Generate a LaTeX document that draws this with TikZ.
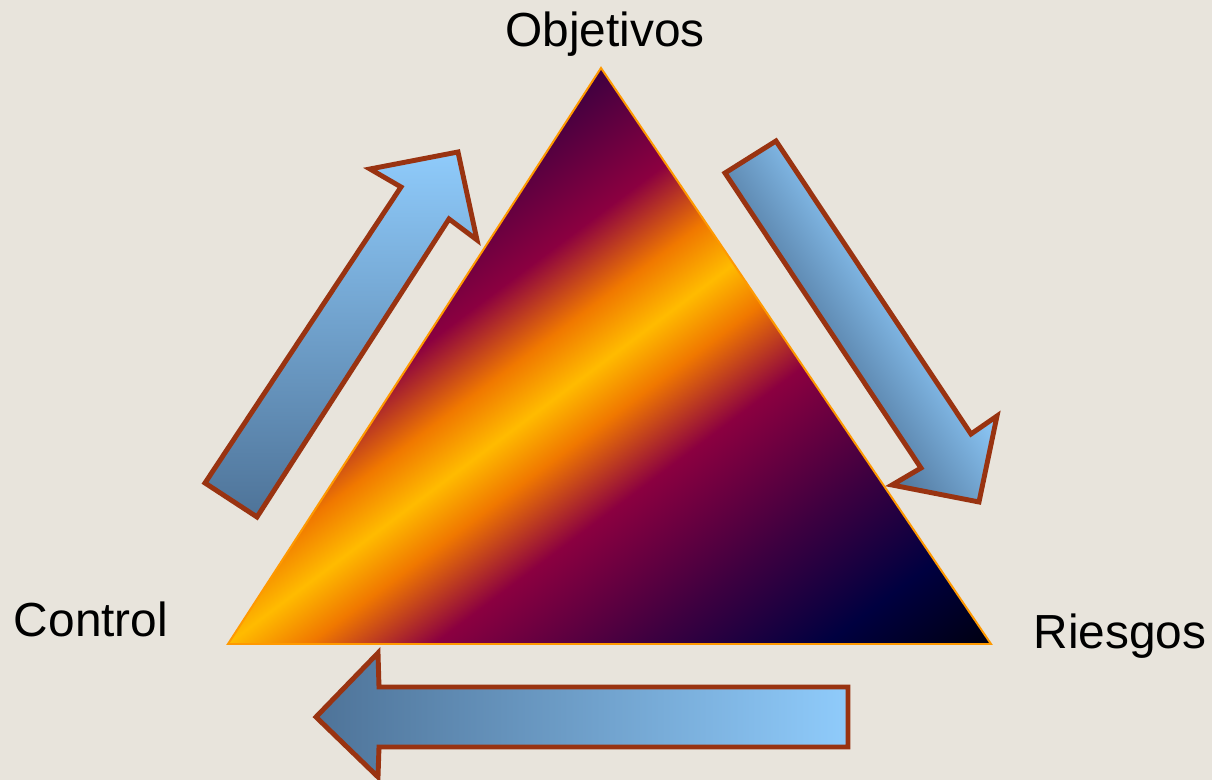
\documentclass[tikz,border=0pt]{standalone}
\usepackage{fontspec}
\setmainfont{Liberation Sans}
\usetikzlibrary{calc}
\definecolor{paper}{RGB}{232,228,220}
\definecolor{rust}{RGB}{153,51,17}
\definecolor{tangerine}{RGB}{255,153,0}
\definecolor{skylight}{RGB}{143,203,251}
\definecolor{skydark}{RGB}{78,115,152}
\definecolor{plum}{RGB}{62,0,64}
\definecolor{crimson}{RGB}{139,0,64}
\definecolor{ember}{RGB}{240,120,0}
\definecolor{gold}{RGB}{255,187,0}
\definecolor{nightblue}{RGB}{0,0,64}
\definecolor{pitch}{RGB}{0,0,16}
\pgfdeclarehorizontalshading{trishade}{100bp}{color(0bp)=(plum); color(25bp)=(plum);
  color(33.3bp)=(crimson); color(38.3bp)=(ember); color(42bp)=(gold); color(45.5bp)=(ember);
  color(50.9bp)=(crimson); color(59.9bp)=(plum); color(67.8bp)=(nightblue);
  color(75bp)=(pitch); color(100bp)=(pitch)}
\tikzset{
  blockarrow/.style={draw=rust,line width=3.5pt,line join=miter},
  triedge/.style={draw=tangerine,line width=1.4pt},
  cornerlabel/.style={font=\fontsize{34}{40}\selectfont,text=black,anchor=base,inner sep=0pt},
}

\begin{document}
\begin{tikzpicture}[x=0.025cm,y=0.025cm]
  \fill[paper] (0,0) rectangle (1212,780);
  % triangle
  \coordinate (apex) at (601,712);
  \coordinate (lft) at (228,136);
  \coordinate (rgt) at (991,136);
  \begin{scope}
    \clip (apex) -- (lft) -- (rgt) -- cycle;
    \shade[shading=trishade,transform canvas={rotate=-53.13}] (-209,250) rectangle (486,920);
  \end{scope}
  \draw[triedge] (apex) -- (lft) -- (rgt) -- cycle;
  % arrows
  \shade[blockarrow,top color=skylight,bottom color=skydark]
    (205,297) -- (257,263) -- (449,561) -- (477,540) -- (458,628) -- (370,611) -- (401,593) -- cycle;
  \path[save path=\downarrow]
    (725,607) -- (776,639) -- (971,346) -- (997,364) -- (979,278) -- (892,295) -- (921,312) -- cycle;
  \begin{scope}
    \clip[use path=\downarrow];
    \shade[left color=skydark,right color=skylight,transform canvas={rotate=33.6}] (906,-320) rectangle (1032,110);
  \end{scope}
  \draw[blockarrow,use path=\downarrow];
  \shade[blockarrow,left color=skydark,right color=skylight]
    (316,63) -- (378,127) -- (379,93) -- (848,93) -- (848,33) -- (379,33) -- (378,3) -- cycle;
  % labels
  \node[cornerlabel] (obj) at (605,733) {Objetivos};
  \node[cornerlabel] (ctrl) at (91,143) {Control};
  \node[cornerlabel] (risk) at (1120,131) {Riesgos};
  \pgfresetboundingbox
  \useasboundingbox (0,0) rectangle (1212,780);
\end{tikzpicture}
\end{document}
